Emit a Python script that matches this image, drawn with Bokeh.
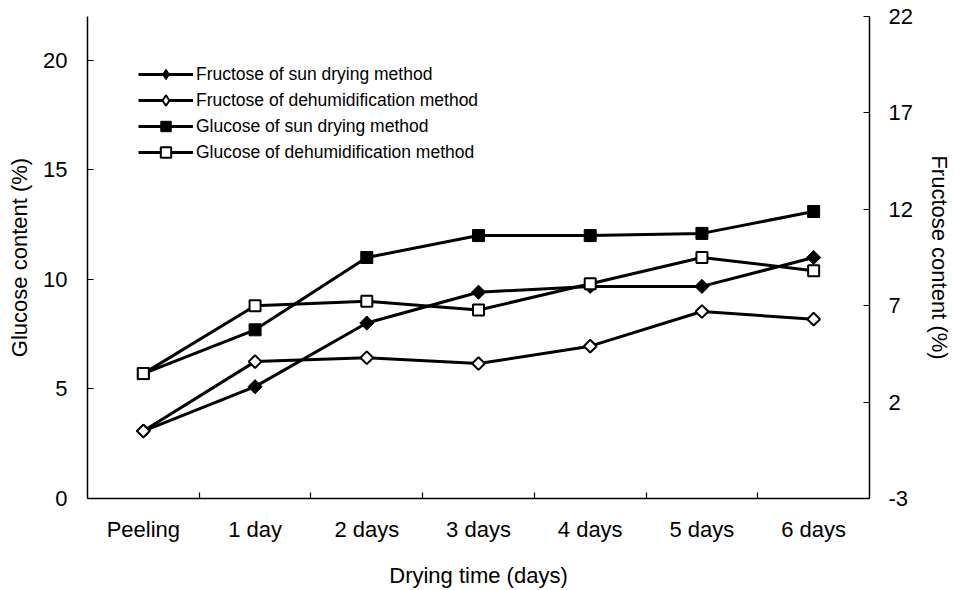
import math
from bokeh.plotting import figure
from bokeh.models import Range1d, LinearAxis, FixedTicker, Legend, LegendItem, ColumnDataSource
from bokeh.embed import file_html
from bokeh.resources import INLINE

categories = ["Peeling", "1 day", "2 days", "3 days", "4 days", "5 days", "6 days"]
glucose_sun = [5.7, 7.7, 11.0, 12.0, 12.0, 12.1, 13.1]
glucose_dehum = [5.7, 8.8, 9.0, 8.6, 9.8, 11.0, 10.4]
fructose_sun = [0.5, 2.8, 6.1, 7.7, 8.0, 8.0, 9.5]
fructose_dehum = [0.5, 4.1, 4.3, 4.0, 4.9, 6.7, 6.3]
left_ticks = [0, 5, 10, 15, 20]
right_ticks = [-3, 2, 7, 12, 17, 22]

x = list(range(len(categories)))
FONT = "Liberation Sans"

p = figure(width=954, height=590, output_backend="svg", toolbar_location=None,
           x_range=Range1d(-0.5, len(categories) - 0.5), y_range=Range1d(0, 22),
           min_border_left=87, min_border_right=83, min_border_top=16, min_border_bottom=90)
p.outline_line_color = None
p.grid.visible = False
p.background_fill_color = "white"
p.border_fill_color = "white"
p.extra_y_ranges = {"fru": Range1d(-3, 22)}

def style_axis(ax):
    ax.axis_line_color = "black"
    ax.axis_line_width = 1.5
    ax.major_tick_line_color = "black"
    ax.major_tick_line_width = 1.2
    ax.major_tick_in = 6
    ax.major_tick_out = 0
    ax.minor_tick_line_color = None
    ax.major_label_text_font = FONT
    ax.major_label_text_font_size = "22px"
    ax.major_label_text_color = "black"
    ax.axis_label_text_font = FONT
    ax.axis_label_text_font_size = "22px"
    ax.axis_label_text_font_style = "normal"
    ax.axis_label_text_color = "black"

xa = p.xaxis[0]
style_axis(xa)
xa.ticker = FixedTicker(ticks=x, minor_ticks=[i + 0.5 for i in x[:-1]])
xa.major_label_overrides = {i: c for i, c in zip(x, categories)}
xa.major_tick_line_color = None
xa.major_tick_in = 0
xa.minor_tick_line_color = "black"
xa.minor_tick_line_width = 1.2
xa.minor_tick_in = 6
xa.minor_tick_out = 0
xa.major_label_standoff = 18
xa.axis_label = "Drying time (days)"
xa.axis_label_standoff = 18

ya = p.yaxis[0]
style_axis(ya)
ya.ticker = FixedTicker(ticks=left_ticks)
ya.major_label_standoff = 20
ya.axis_label = "Glucose content (%)"
ya.axis_label_standoff = 8

ra = LinearAxis(y_range_name="fru")
style_axis(ra)
ra.ticker = FixedTicker(ticks=right_ticks)
ra.major_label_overrides = {t: str(t) for t in right_ticks}
ra.major_label_standoff = 19
ra.axis_label = "Fructose content (%)"
ra.axis_label_standoff = 11
p.add_layout(ra, "right")

LW = 3
items = []
# legend-only source (a single NaN point, never drawn in the plot)
key_src = ColumnDataSource(data=dict(x=[float("nan")], y=[float("nan")]))

l1 = p.line(x, fructose_sun, y_range_name="fru", line_color="black", line_width=LW)
m1 = p.scatter(x, fructose_sun, y_range_name="fru", marker="square", angle=math.pi / 4,
               size=10, fill_color="black", line_color="black", line_width=1)
k1 = p.scatter("x", "y", source=key_src, marker="diamond", size=15,
               fill_color="black", line_color="black", line_width=1)
items.append(LegendItem(label="Fructose of sun drying method", renderers=[l1, k1]))

l2 = p.line(x, fructose_dehum, y_range_name="fru", line_color="black", line_width=LW)
m2 = p.scatter(x, fructose_dehum, y_range_name="fru", marker="square", angle=math.pi / 4,
               size=9, fill_color="white", line_color="black", line_width=2)
k2 = p.scatter("x", "y", source=key_src, marker="diamond", size=15,
               fill_color="white", line_color="black", line_width=2)
items.append(LegendItem(label="Fructose of dehumidification method", renderers=[l2, k2]))

l3 = p.line(x, glucose_sun, line_color="black", line_width=LW)
m3 = p.scatter(x, glucose_sun, marker="square", size=12,
               fill_color="black", line_color="black", line_width=1)
items.append(LegendItem(label="Glucose of sun drying method", renderers=[l3, m3]))

l4 = p.line(x, glucose_dehum, line_color="black", line_width=LW)
m4 = p.scatter(x, glucose_dehum, marker="square", size=11,
               fill_color="white", line_color="black", line_width=2)
items.append(LegendItem(label="Glucose of dehumidification method", renderers=[l4, m4]))

legend = Legend(items=items, location=(51, 333), orientation="vertical",
                glyph_width=55, glyph_height=26, label_height=26, spacing=0,
                label_standoff=3, padding=0, margin=0,
                border_line_color=None, background_fill_alpha=0,
                label_text_font=FONT, label_text_font_size="17.5px",
                label_text_color="black")
p.add_layout(legend, "center")

open("out.html", "w").write(file_html(p, INLINE))
